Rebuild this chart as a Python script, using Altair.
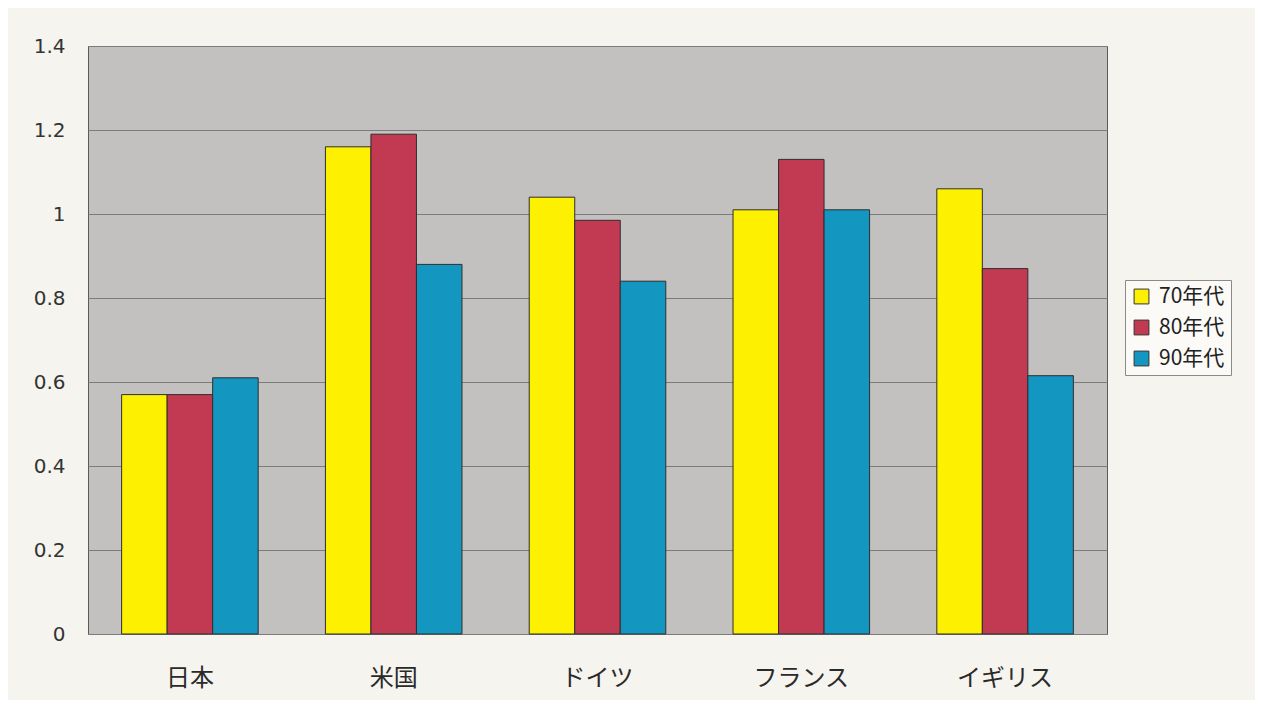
import altair as alt
import pandas as pd

countries = ["日本", "米国", "ドイツ", "フランス", "イギリス"]
decades = ["70年代", "80年代", "90年代"]
v70 = [0.57, 1.16, 1.04, 1.01, 1.06]
v80 = [0.57, 1.19, 0.985, 1.13, 0.87]
v90 = [0.61, 0.88, 0.84, 1.01, 0.615]
colors = ["#fdf000", "#c13a52", "#1396c0"]
y_ticks = [0, 0.2, 0.4, 0.6, 0.8, 1, 1.2, 1.4]

rows = []
for series, vals in zip(decades, [v70, v80, v90]):
    for c, v in zip(countries, vals):
        rows.append({"country": c, "decade": series, "value": v})
df = pd.DataFrame(rows)

jp = "Noto Sans CJK JP"

chart = alt.Chart(df).mark_bar(stroke="#2e2e2e", strokeWidth=1).encode(
    x=alt.X("country:N", sort=countries,
            scale=alt.Scale(paddingInner=0.33, paddingOuter=0.165),
            axis=alt.Axis(title=None, labelAngle=0, labelFontSize=24, labelFont=jp,
                          labelColor="#2a2a2a", labelPadding=32, ticks=False,
                          domain=False, grid=False)),
    xOffset=alt.XOffset("decade:N", sort=decades),
    y=alt.Y("value:Q", scale=alt.Scale(domain=[0, 1.4], nice=False),
            axis=alt.Axis(title=None, values=y_ticks, format="~g", labelFontSize=20,
                          labelFont="DejaVu Sans", labelColor="#333333",
                          labelPadding=23, ticks=False, domain=False,
                          grid=True, gridColor="#7c7c7c", gridWidth=1)),
    color=alt.Color("decade:N", sort=decades,
                    scale=alt.Scale(domain=decades, range=colors),
                    legend=alt.Legend(title=None, orient="none", legendX=1037, legendY=234,
                                      fillColor="#fbfaf6", strokeColor="#8a8a8a",
                                      padding=6, symbolType="square", symbolSize=220,
                                      symbolStrokeColor="#333333", symbolStrokeWidth=1,
                                      labelFontSize=21, labelFont=jp, labelColor="#222222",
                                      rowPadding=9, labelOffset=7, labelLimit=200)),
).properties(
    width=1019, height=588,
    autosize=alt.AutoSizeParams(type="none"),
    padding={"left": 80, "top": 38, "right": 148, "bottom": 66},
    background="#f6f4ee",
).configure_view(
    fill="#c3c1bf", stroke="#5a5a5a", strokeWidth=1,
)

chart.save("out.html", embed_options={"renderer": "svg", "actions": False})
